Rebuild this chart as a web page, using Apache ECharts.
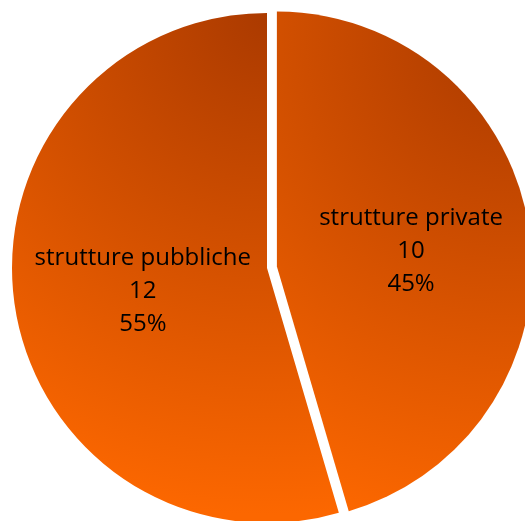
<!DOCTYPE html>
<html>
<head>
<meta charset="utf-8">
<script src="https://cdn.jsdelivr.net/npm/echarts@6/dist/echarts.min.js"></script>
<style>
  html, body { margin: 0; padding: 0; background: #ffffff; }
  #chart { width: 525px; height: 521px; }
</style>
</head>
<body>
<div id="chart"></div>
<script>
// Strutture per tipologia
const categories = ['strutture private', 'strutture pubbliche'];
const values = [10, 12];

const CENTER = [267, 268];
const RADIUS = 255;
const PULL = 10;          // the first slice is pulled out of the pie
const SHADE_R = 500;      // reach of the shading from each slice's dark corner

// label nudges per slice
const LABEL_SHIFT = [[5, 3], [5, 5]];

const chart = echarts.init(document.getElementById('chart'), null, { renderer: 'canvas' });

// Each slice is shaded from a dark burnt orange near its upper right corner,
// spreading out to bright orange towards the bottom left.
function shade(x0, y0) {
  return new echarts.graphic.RadialGradient(x0, y0, SHADE_R, [
    { offset: 0, color: '#ab3a00' },
    { offset: 1, color: '#fc6700' }
  ], true);
}

const total = values.reduce((a, b) => a + b, 0);
const firstMid = (values[0] / total) * Math.PI;   // clockwise from 12 o'clock
const pullX = PULL * Math.sin(firstMid);
const pullY = -PULL * Math.cos(firstMid);

const fills = [
  shade(CENTER[0] + RADIUS + pullX - 27, CENTER[1] - RADIUS + pullY + 29),
  shade(CENTER[0] + 3, CENTER[1] - RADIUS + 2)
];

chart.setOption({
  animation: false,
  series: [{
    type: 'pie',
    center: CENTER,
    radius: RADIUS,
    startAngle: 90,
    clockwise: true,
    percentPrecision: 0,
    selectedMode: 'single',
    selectedOffset: PULL,
    emphasis: { disabled: true },
    label: {
      show: true,
      position: 'inside',
      formatter: '{b}\n{c}\n{d}%',
      color: '#000000',
      fontFamily: 'Open Sans',
      fontSize: 24,
      lineHeight: 33,
      align: 'center'
    },
    labelLayout: (params) => ({
      dx: LABEL_SHIFT[params.dataIndex][0],
      dy: LABEL_SHIFT[params.dataIndex][1]
    }),
    labelLine: { show: false },
    itemStyle: { borderWidth: 0 },
    data: categories.map((name, i) => ({
      name: name,
      value: values[i],
      selected: i === 0,
      itemStyle: { color: fills[i] }
    }))
  }]
});
</script>
</body>
</html>
